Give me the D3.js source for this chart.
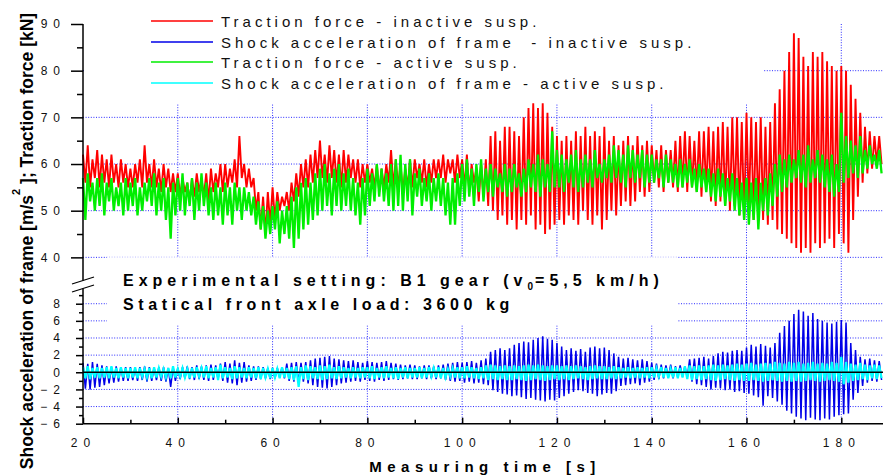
<!DOCTYPE html>
<html>
<head>
<meta charset="utf-8">
<script src="https://cdn.jsdelivr.net/npm/d3@7"></script>
<style>
  html, body { margin: 0; padding: 0; background: #fff; }
  svg { display: block; font-family: "Liberation Sans", Arial, sans-serif; }
  .tick text { font-size: 12px; letter-spacing: 6px; fill: #111; }
</style>
</head>
<body>
<svg id="chart" width="883" height="476"></svg>
<script>
// Sample grid: one max/min pair per second of the run
const time = d3.range(20, 189);

// Traction force, inactive suspension [kN] — per-second upper / lower excursion
const tractionInactiveHi = [
  62,64,61,63,62,61,62,60,61,60, 59,60,61,64,60,61,59,60,59,58,
  58,57,56,57,58,57,58,59,58,60, 60,59,61,66,60,59,57,54,53,54,
  55,54,53,54,56,58,60,61,62,63, 65,62,64,63,62,63,62,61,61,60,
  60,59,60,59,60,63,61,60,59,61, 61,60,61,60,61,61,62,61,61,62,
  61,62,60,59,60,61,66,67,65,68, 68,67,66,70,72,73,72,73,71,68,
  66,65,66,65,67,66,68,66,67,66, 68,65,66,64,65,66,64,66,64,65,
  64,63,64,63,63,65,66,67,66,65, 67,67,68,67,68,69,68,70,70,69,
  71,70,69,70,68,69,73,76,80,84, 88,87,83,81,84,83,84,82,81,80,
  81,80,77,74,71,68,67,66,66];
const tractionInactiveLo = [
  56,55,57,55,56,55,56,55,56,55, 55,56,55,56,55,55,54,55,54,54,
  53,54,52,53,54,53,52,54,55,54, 55,56,55,57,55,55,50,46,45,47,
  48,50,51,50,52,53,55,55,56,57, 57,56,57,56,55,56,57,56,55,56,
  56,55,54,55,56,55,55,54,55,55, 57,56,55,56,57,57,56,58,56,57,
  55,54,56,52,53,51,50,48,49,47, 48,46,48,47,49,46,47,45,46,47,
  48,47,49,48,47,50,48,47,49,46, 48,50,49,51,52,51,52,54,53,54,
  56,55,54,56,55,54,55,54,55,54, 53,54,52,51,52,51,50,51,49,48,
  50,48,49,48,47,48,46,45,44,43, 42,41,42,41,43,42,43,44,42,45,
  43,41,48,53,56,58,59,60,60];

// Traction force, active suspension [kN]
const tractionActiveHi = [
  57,58,56,57,58,56,57,55,56,57, 56,57,55,56,57,58,56,57,55,56,
  57,58,56,57,56,58,56,55,56,55, 56,55,56,55,55,54,53,52,51,50,
  51,52,50,51,53,55,56,57,56,58, 59,60,58,59,60,58,59,57,56,57,
  59,58,60,59,58,60,61,62,60,61, 58,59,57,58,57,58,57,56,57,58,
  60,61,59,60,61,59,60,59,58,60, 59,60,58,59,61,60,62,61,60,67,
  63,62,61,62,63,61,62,61,63,60, 61,62,64,63,62,64,63,62,63,62,
  62,61,61,62,61,60,61,60,61,59, 60,59,59,58,59,58,57,58,57,56,
  57,56,57,56,57,58,60,62,61,62, 61,63,62,64,61,63,62,61,62,60,
  71,66,65,64,66,63,64,62,63];
const tractionActiveLo = [
  48,52,50,51,49,52,50,51,49,50, 51,49,50,52,51,49,50,48,44,49,
  50,49,51,48,50,51,49,48,49,47, 49,47,50,48,50,49,47,46,44,45,
  46,43,45,44,42,44,46,47,48,49, 50,51,49,51,50,51,50,49,47,49,
  51,52,53,52,51,50,51,50,52,49, 53,51,52,50,52,51,49,47,47,51,
  52,53,51,54,52,54,53,55,54,53, 54,55,53,54,55,54,53,55,54,55,
  55,54,56,55,54,55,56,55,57,56, 57,56,57,56,55,57,56,57,55,56,
  56,57,55,56,56,55,55,56,55,54, 55,54,53,52,53,51,52,50,49,48,
  47,48,46,50,49,51,53,54,55,56, 57,56,55,56,57,56,55,54,53,54,
  56,57,58,57,58,59,60,59,58];

// Shock acceleration of frame, inactive suspension [m/s²]
const shockInactiveHi = [
  1.1,1.0,1.2,1.0,0.8,0.7,0.6,0.7,0.6,0.6, 0.6,0.5,0.6,0.7,0.6,0.5,0.6,0.6,0.5,0.6,
  0.5,0.6,0.7,0.6,0.8,0.7,0.8,0.9,0.8,1.0, 1.2,1.0,1.4,1.1,1.2,0.8,0.7,0.7,0.6,0.5,
  0.5,0.5,0.6,1.0,1.1,1.2,1.1,1.2,1.4,1.6, 1.7,1.8,1.9,1.6,1.5,1.4,1.3,1.4,1.2,1.1,
  1.3,1.2,1.1,1.2,1.3,1.1,1.0,0.9,0.8,0.9, 0.8,0.7,0.8,0.8,0.7,0.8,0.9,1.0,1.1,1.2,
  1.1,1.2,1.3,1.1,1.4,1.6,2.4,2.6,2.8,2.6, 2.8,3.2,3.4,3.6,3.5,3.8,4.0,4.2,3.9,3.8,
  3.4,3.0,2.6,2.8,2.5,2.7,2.4,2.9,3.0,2.8, 2.9,2.6,2.2,1.8,1.6,1.7,1.5,1.4,1.5,1.3,
  1.1,1.0,0.9,0.8,0.9,0.7,0.8,0.7,1.5,1.6, 1.7,1.8,1.6,1.9,2.2,2.4,2.3,2.5,2.6,2.5,
  2.9,3.2,3.0,3.3,3.1,2.9,3.4,4.6,5.4,6.0, 6.8,7.3,7.1,6.6,6.9,6.2,6.0,5.8,5.7,5.9,
  6.1,5.8,3.4,2.6,1.8,1.5,1.6,1.4,1.3];
const shockInactiveLo = [
  -1.9,-2.0,-1.8,-1.7,-1.5,-1.3,-1.2,-1.1,-1.0,-1.0, -0.9,-1.0,-0.9,-1.1,-1.0,-0.9,-1.0,-1.1,-1.7,-1.0,
  -0.8,-0.7,-0.8,-0.9,-0.8,-0.9,-1.0,-0.9,-0.8,-1.0, -1.2,-1.3,-1.5,-1.2,-1.1,-1.0,-0.9,-0.8,-0.7,-0.8,
  -0.7,-0.6,-0.7,-1.0,-1.1,-1.2,-1.1,-1.3,-1.5,-1.7, -1.8,-1.9,-1.7,-1.5,-1.3,-1.2,-1.1,-1.0,-1.1,-0.9,
  -1.0,-1.1,-0.9,-1.0,-0.9,-0.8,-0.9,-0.8,-0.7,-0.8, -0.8,-0.7,-0.8,-0.7,-0.8,-0.7,-0.9,-1.0,-1.1,-1.0,
  -1.2,-1.1,-1.3,-1.2,-1.4,-1.5,-2.1,-2.3,-2.5,-2.6, -2.8,-2.7,-2.9,-3.1,-3.0,-3.2,-3.3,-3.4,-3.2,-3.3,
  -3.0,-2.8,-2.5,-2.3,-2.1,-2.2,-2.4,-2.5,-2.8,-2.6, -2.4,-2.5,-2.2,-1.6,-1.5,-1.4,-1.3,-1.5,-1.2,-1.1,
  -0.9,-0.8,-0.7,-0.6,-0.7,-0.6,-0.5,-0.6,-1.1,-1.4, -1.5,-1.7,-2.0,-1.8,-1.9,-2.1,-2.0,-2.3,-2.2,-2.4,
  -2.5,-2.7,-2.9,-3.9,-2.8,-3.0,-3.4,-3.8,-4.5,-4.8, -5.2,-5.4,-5.6,-5.3,-5.5,-5.6,-5.4,-5.5,-5.2,-5.0,
  -4.9,-4.8,-3.2,-2.4,-1.6,-1.2,-1.0,-1.1,-0.9];

// Shock acceleration of frame, active suspension [m/s²]
const shockActiveHi = [
  0.6,0.7,0.5,0.6,0.5,0.6,0.7,0.5,0.6,0.5, 0.5,0.6,0.5,0.4,0.5,0.6,0.5,0.4,0.5,0.7,
  0.4,0.5,0.4,0.5,0.6,0.5,0.7,0.5,0.6,0.9, 0.6,0.5,0.7,0.6,0.5,0.6,0.5,0.6,0.5,0.4,
  0.5,0.4,0.6,0.5,0.6,0.7,0.6,0.8,0.7,0.6, 0.8,0.7,0.9,0.6,0.7,0.6,0.5,0.6,0.5,0.6,
  0.6,0.7,0.5,0.6,0.7,0.5,0.6,0.5,0.6,0.5, 0.5,0.6,0.5,0.6,0.5,0.6,0.5,0.4,0.5,0.6,
  0.6,0.7,0.6,0.5,0.6,0.8,0.9,0.8,0.7,0.8, 0.7,0.8,0.7,0.8,0.9,0.8,0.9,0.8,0.7,0.8,
  0.8,0.7,0.8,0.7,0.8,0.7,0.6,0.7,0.8,0.7, 0.7,0.6,0.7,0.6,0.5,0.6,0.5,0.6,0.5,0.6,
  0.6,0.5,0.6,0.5,0.4,0.6,0.5,0.7,0.8,0.7, 0.8,0.7,0.8,0.9,0.8,0.9,0.8,0.9,1.0,0.9,
  1.0,1.1,0.9,1.0,1.1,1.0,1.2,1.1,1.0,1.2, 1.1,1.2,1.0,1.1,1.2,1.0,1.1,1.0,1.2,1.1,
  1.8,1.2,1.0,0.9,1.1,0.9,0.8,0.9,0.8];
const shockActiveLo = [
  -0.7,-0.8,-0.6,-0.7,-0.6,-0.7,-0.6,-0.7,-0.6,-0.7, -0.6,-0.7,-0.5,-0.6,-0.7,-0.6,-0.5,-0.6,-0.7,-0.6,
  -0.5,-0.6,-0.7,-0.6,-0.5,-0.6,-0.7,-0.6,-0.9,-0.7, -0.6,-0.8,-0.7,-0.6,-0.7,-0.6,-0.7,-0.8,-0.6,-0.7,
  -0.6,-0.7,-0.6,-0.8,-0.9,-1.7,-0.8,-0.9,-0.7,-0.8, -0.9,-0.8,-0.7,-0.8,-0.7,-0.6,-0.7,-0.6,-0.7,-0.6,
  -0.7,-0.8,-0.6,-0.7,-0.6,-0.7,-0.8,-0.6,-0.7,-0.6, -0.6,-0.7,-0.6,-0.5,-0.6,-0.7,-0.6,-0.5,-0.6,-0.7,
  -0.7,-0.6,-0.7,-0.8,-0.7,-0.9,-0.8,-0.9,-0.8,-0.9, -0.9,-0.8,-0.9,-1.0,-0.9,-0.8,-0.9,-1.0,-0.9,-0.8,
  -0.9,-0.8,-0.9,-0.8,-0.7,-0.8,-0.9,-0.8,-0.7,-0.8, -0.8,-0.7,-0.8,-0.7,-0.6,-0.7,-0.6,-0.7,-0.6,-0.7,
  -0.6,-0.5,-0.6,-0.7,-0.6,-0.7,-0.6,-0.8,-0.9,-0.8, -0.9,-0.8,-0.9,-1.0,-0.9,-0.8,-0.9,-1.0,-0.9,-1.0,
  -1.0,-0.9,-1.0,-1.1,-1.0,-0.9,-1.0,-1.1,-1.0,-1.1, -1.0,-1.1,-1.0,-0.9,-1.0,-1.1,-1.0,-0.9,-1.0,-1.1,
  -1.4,-1.2,-1.0,-0.9,-0.8,-0.9,-0.7,-0.8,-0.7];

// Axis ticks
const timeTicks = [20, 40, 60, 80, 100, 120, 140, 160, 180];
const timeMinorTicks = [30, 50, 70, 90, 110, 130, 150, 170];
const forceTicks = [40, 50, 60, 70, 80, 90];
const forceMinorTicks = [45, 55, 65, 75, 85];
const forceGrid = [40, 50, 60, 70, 80];
const accelTicks = [-6, -4, -2, 0, 2, 4, 6, 8];
const accelMinorTicks = [-5, -3, -1, 1, 3, 5, 7, 9];
const accelGrid = [-4, -2, 2, 4, 6, 8];

const legendLabels = [
  "Traction force - inactive susp.",
  "Shock acceleration of frame  - inactive susp.",
  "Traction force - active susp.",
  "Shock acceleration of frame - active susp."
];
const seriesColors = ["#ff0000", "#0000e8", "#00ee00", "#00ffff"];

const svg = d3.select("#chart");

// Scales: shared time axis, broken value axis (force on top, acceleration below)
const x = d3.scaleLinear().domain([20, 188.8]).range([83, 883]);
const yTop = d3.scaleLinear().domain([35, 90]).range([280.7, 24]);
const yBot = d3.scaleLinear().domain([-6, 9.6]).range([423.7, 290]);

// Dotted grid
const grid = svg.append("g")
  .attr("stroke", "#2a2aff")
  .attr("stroke-width", 1)
  .attr("stroke-dasharray", "1,1.6");
grid.selectAll("line.vg").data(timeTicks.slice(1)).join("line")
  .attr("x1", d => x(d)).attr("x2", d => x(d))
  .attr("y1", yTop(90)).attr("y2", yBot(-6));
grid.selectAll("line.hgTop").data(forceGrid).join("line")
  .attr("x1", x(20)).attr("x2", 883)
  .attr("y1", d => yTop(d)).attr("y2", d => yTop(d));
grid.selectAll("line.hgBot").data(accelGrid).join("line")
  .attr("x1", x(20)).attr("x2", 883)
  .attr("y1", d => yBot(d)).attr("y2", d => yBot(d));

// Opaque backgrounds of the legend and the annotation box
svg.append("rect").attr("x", 84).attr("y", 0).attr("width", 680).attr("height", 103).attr("fill", "#fff");
svg.append("rect").attr("x", 107).attr("y", 257.2).attr("width", 571).attr("height", 68).attr("fill", "#fff");

// Signals drawn as per-second max/min zigzags
function zigzag(hi, lo) {
  return time.flatMap((t, i) => [[t, hi[i]], [t + 0.5, lo[i]]]);
}
const lineTop = d3.line().x(d => x(d[0])).y(d => yTop(d[1]));
const lineBot = d3.line().x(d => x(d[0])).y(d => yBot(d[1]));

svg.append("path").datum(zigzag(tractionInactiveHi, tractionInactiveLo))
  .attr("d", lineTop).attr("fill", "none").attr("stroke", seriesColors[0]).attr("stroke-width", 1.9);
svg.append("path").datum(zigzag(shockInactiveHi, shockInactiveLo))
  .attr("d", lineBot).attr("fill", "none").attr("stroke", seriesColors[1]).attr("stroke-width", 1.5);
svg.append("path").datum(zigzag(tractionActiveHi, tractionActiveLo))
  .attr("d", lineTop).attr("fill", "none").attr("stroke", seriesColors[2]).attr("stroke-width", 2.3);
svg.append("path").datum(zigzag(shockActiveHi, shockActiveLo))
  .attr("d", lineBot).attr("fill", "none").attr("stroke", seriesColors[3]).attr("stroke-width", 2.2);

// Zero line of the acceleration panel
svg.append("line")
  .attr("x1", x(20)).attr("x2", 883)
  .attr("y1", yBot(0)).attr("y2", yBot(0))
  .attr("stroke", "#000").attr("stroke-width", 1.5);

// Axes
function styleAxis(g) {
  g.select(".domain").remove();
  g.selectAll(".tick line").attr("stroke", "#000").attr("stroke-width", 1.5);
}
svg.append("g").attr("transform", `translate(${x(20)},0)`)
  .call(d3.axisLeft(yTop).tickValues(forceTicks).tickSize(12).tickPadding(5).tickFormat(d3.format("d")))
  .call(styleAxis);
svg.append("g").attr("transform", `translate(${x(20)},0)`)
  .call(d3.axisLeft(yTop).tickValues(forceMinorTicks).tickSize(6).tickFormat(""))
  .call(styleAxis);
svg.append("g").attr("transform", `translate(${x(20)},0)`)
  .call(d3.axisLeft(yBot).tickValues(accelTicks).tickSize(7).tickPadding(10).tickFormat(d3.format("d")))
  .call(styleAxis);
svg.append("g").attr("transform", `translate(${x(20)},0)`)
  .call(d3.axisLeft(yBot).tickValues(accelMinorTicks).tickSize(4).tickFormat(""))
  .call(styleAxis);
svg.append("g").attr("transform", `translate(0,${yBot(-6)})`)
  .call(d3.axisBottom(x).tickValues(timeTicks).tickSize(-6).tickPadding(15).tickFormat(d3.format("d")))
  .call(styleAxis);
svg.append("g").attr("transform", `translate(0,${yBot(-6)})`)
  .call(d3.axisBottom(x).tickValues(timeMinorTicks).tickSize(-4).tickFormat(""))
  .call(styleAxis);

// Axis lines with the break marks
const axes = svg.append("g").attr("stroke", "#000").attr("stroke-width", 1.5).attr("fill", "none");
axes.append("line").attr("x1", x(20)).attr("x2", x(20)).attr("y1", yTop(90)).attr("y2", 280.5);
axes.append("line").attr("x1", x(20)).attr("x2", x(20)).attr("y1", 288.5).attr("y2", yBot(-6));
axes.append("line").attr("x1", x(20)).attr("x2", 883).attr("y1", yBot(-6)).attr("y2", yBot(-6));
axes.append("line").attr("x1", 72).attr("y1", 284).attr("x2", 94).attr("y2", 277).attr("stroke-width", 1.2);
axes.append("line").attr("x1", 72).attr("y1", 292).attr("x2", 94).attr("y2", 285).attr("stroke-width", 1.2);

// Legend
const legend = svg.append("g");
const rowY = [21, 42, 62, 83];
legendLabels.forEach((label, i) => {
  legend.append("line")
    .attr("x1", 151).attr("x2", 213).attr("y1", rowY[i]).attr("y2", rowY[i])
    .attr("stroke", seriesColors[i]).attr("stroke-width", 1.5);
  legend.append("text")
    .attr("x", 221).attr("y", rowY[i] + 5.5)
    .attr("font-size", 15).attr("fill", "#111")
    .style("letter-spacing", "4px").style("white-space", "pre")
    .text(label);
});

// Test conditions
const note = svg.append("g").attr("font-weight", "bold").attr("font-size", 16).attr("fill", "#000")
  .style("letter-spacing", "5px");
const line1 = note.append("text").attr("x", 123).attr("y", 286);
line1.append("tspan").text("Experimental setting: B1 gear (v");
line1.append("tspan").attr("font-size", 10).attr("dy", 4).style("letter-spacing", "2px").text("0");
line1.append("tspan").attr("dy", -4).text("=5,5 km/h)");
note.append("text").attr("x", 123).attr("y", 310).style("letter-spacing", "4.6px")
  .text("Statical front axle load: 3600 kg");

// Axis titles
svg.append("text")
  .attr("x", 485).attr("y", 471.5)
  .attr("text-anchor", "middle")
  .attr("font-weight", "bold").attr("font-size", 15)
  .style("letter-spacing", "5.5px")
  .text("Measuring time [s]");

const yTitle = svg.append("text")
  .attr("transform", "translate(33,241) rotate(-90)")
  .attr("text-anchor", "middle")
  .attr("font-weight", "bold").attr("font-size", 17.5);
yTitle.append("tspan").text("Shock acceleration of frame [m/s");
yTitle.append("tspan").attr("font-size", 11).attr("dy", -13).text("2");
yTitle.append("tspan").attr("dy", 13).text(" ]; Traction force [kN]");
</script>
</body>
</html>
